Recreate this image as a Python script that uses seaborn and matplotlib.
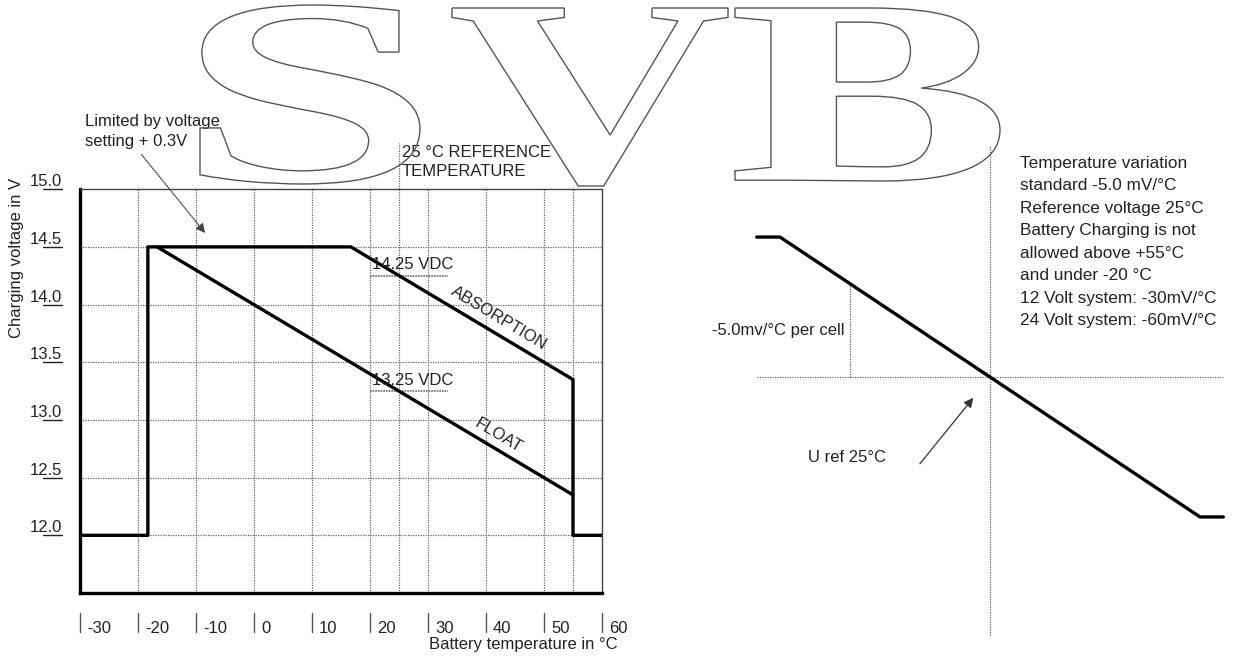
import numpy as np
import pandas as pd
import matplotlib
matplotlib.use("Agg")
import matplotlib.pyplot as plt
import seaborn as sns
from matplotlib.textpath import TextPath
from matplotlib.patches import PathPatch
from matplotlib.font_manager import FontProperties
from matplotlib.transforms import Affine2D

# ------------------ DATA ------------------
# left chart: charging voltage vs battery temperature
ABS_T = [-30, -18.3, -18.3, 16.7, 55, 55, 60]
ABS_V = [12.0, 12.0, 14.5, 14.5, 13.35, 12.0, 12.0]
FLOAT_T = [-16.7, 55]
FLOAT_V = [14.5, 12.35]
TEMP_TICKS = [-30, -20, -10, 0, 10, 20, 30, 40, 50, 60]
V_TICKS = [12.0, 12.5, 13.0, 13.5, 14.0, 14.5, 15.0]
V_GRID = [12.0, 12.5, 13.0, 13.5, 14.0, 14.5]
T_GRID = [-20, -10, 0, 10, 20, 25, 30, 40, 50, 55]
REF_TEMP = 25
ABS_REF = 14.25
FLOAT_REF = 13.25

# right sketch: deviation from U ref (mV per cell) vs temperature offset
COMP_DT = [-50, -45, 45, 50]
COMP_DU = [225, 225, -225, -225]
STEP_DT = -30

NOTES = ("Temperature variation\n"
         "standard -5.0 mV/°C\n"
         "Reference voltage 25°C\n"
         "Battery Charging is not\n"
         "allowed above +55°C\n"
         "and under -20 °C\n"
         "12 Volt system: -30mV/°C\n"
         "24 Volt system: -60mV/°C")

W, H = 1257, 662
INK = "#222222"
GRID = "#666666"

# ------------------ STYLE ------------------
sns.set_style("white")
plt.rcParams["font.family"] = ["Liberation Sans", "DejaVu Sans"]
plt.rcParams["font.size"] = 12

fig = plt.figure(figsize=(W / 100, H / 100), dpi=100)

# ------------------ LEFT CHART ------------------
ax = fig.add_axes([80 / W, (H - 593) / H, 522 / W, 403.8 / H])
ax.set_xlim(-30, 60)
ax.set_ylim(11.5, 15.0)

for v in V_GRID:
    ax.axhline(v, color=GRID, lw=0.9, ls=(0, (1, 1)), zorder=1)
for t in T_GRID:
    ax.axvline(t, color=GRID, lw=0.9, ls=(0, (1, 1)), zorder=1)
# reference line reaches above the box
ax.plot([REF_TEMP, REF_TEMP], [15.0, 15.40], color=GRID, lw=0.9,
        ls=(0, (1, 1)), clip_on=False)

sns.lineplot(x=ABS_T, y=ABS_V, sort=False, estimator=None, color="black",
             lw=2.4, ax=ax, zorder=3)
sns.lineplot(x=FLOAT_T, y=FLOAT_V, sort=False, estimator=None, color="black",
             lw=2.4, ax=ax, zorder=3)

for sp in ["left", "bottom"]:
    ax.spines[sp].set_color("black")
    ax.spines[sp].set_linewidth(2.4)
for sp in ["top", "right"]:
    ax.spines[sp].set_color("#444444")
    ax.spines[sp].set_linewidth(1.0)

# y ticks: labels sitting on a short underline
ax.set_yticks(V_TICKS)
ax.set_yticklabels([f"{v:.1f}" for v in V_TICKS], color=INK)
ax.tick_params(axis="y", length=0, pad=13)
plt.setp(ax.get_yticklabels(), va="bottom")
ytr = ax.get_yaxis_transform()
for v in V_TICKS:
    ax.plot([-0.071, -0.0345], [v, v], color=INK, lw=1, transform=ytr, clip_on=False)

# x ticks: small bar followed by the label
ax.set_xticks([])
xtr = ax.get_xaxis_transform()
for t in TEMP_TICKS:
    ax.plot([t, t], [-0.0495, -0.0966], color="#555555", lw=1, transform=xtr, clip_on=False)
    ax.annotate(str(t), xy=(t, -0.087), xycoords=xtr, xytext=(5, 0),
                textcoords="offset points", ha="left", va="center", color=INK)

ax.set_ylabel("Charging voltage in V", color=INK)
ax.yaxis.set_label_coords(-0.121, 0.83)
ax.yaxis.label.set_va("center")
ax.set_xlabel("Battery temperature in °C", color=INK)
ax.xaxis.set_label_coords(1.029, -0.128)
ax.xaxis.label.set_ha("right")
ax.xaxis.label.set_va("center")

# annotations
ax.text(25.5, 15.235, "25 °C REFERENCE\nTEMPERATURE", ha="left", va="center",
        color=INK, linespacing=1.35)
ax.text(-29.1, 15.50, "Limited by voltage\nsetting + 0.3V", ha="left", va="center",
        color=INK, linespacing=1.35)
ax.annotate("", xy=(-8.1, 14.60), xytext=(-19.7, 15.32),
            arrowprops=dict(arrowstyle="-|>", color="#444444", lw=0.9,
                            ls=(0, (1, 1)), mutation_scale=14),
            annotation_clip=False)

for ref in [ABS_REF, FLOAT_REF]:
    ax.plot([20, 33.5], [ref, ref], color=GRID, lw=1.2, ls=(0, (1, 0.6)), zorder=2)
    ax.text(20.4, ref + 0.03, f"{ref:.2f} VDC", ha="left", va="bottom", color=INK)

ax.text(41.5, 13.83, "ABSORPTION", rotation=-31, rotation_mode="anchor",
        ha="center", va="bottom", color=INK)
ax.text(41.5, 12.81, "FLOAT", rotation=-31, rotation_mode="anchor",
        ha="center", va="bottom", color=INK)

# ------------------ RIGHT SKETCH ------------------
ax2 = fig.add_axes([740 / W, (H - 640) / H, 500 / W, 500 / H])
ax2.set_xlim(-53.57, 53.57)
ax2.set_ylim(-422.8, 381.0)
ax2.axis("off")

ax2.plot([-50, 50], [0, 0], color=GRID, lw=0.9, ls=(0, (1, 1)))
ax2.plot([0, 0], [-415, 373], color=GRID, lw=0.9, ls=(0, (1, 1)))
ax2.plot([STEP_DT, STEP_DT], [0, -5 * STEP_DT], color=GRID, lw=0.9, ls=(0, (1, 1)))
sns.lineplot(x=COMP_DT, y=COMP_DU, sort=False, estimator=None, color="black",
             lw=2.4, ax=ax2, zorder=3)

ax2.text(-31.1, 75, "-5.0mv/°C per cell", ha="right", va="center", color=INK)
ax2.text(-39, -130, "U ref 25°C", ha="left", va="center", color=INK)
ax2.annotate("", xy=(-3.2, -30), xytext=(-15.4, -143),
             arrowprops=dict(arrowstyle="-|>", color="#333333", lw=0.9,
                             mutation_scale=14),
             annotation_clip=False)
ax2.text(6.4, 217, NOTES, ha="left", va="center", color=INK, fontsize=12.4,
         linespacing=1.62)

# ------------------ WATERMARK ------------------
# each letter fitted to the box it takes in the original
LETTER_BOXES = {"S": (200, 420, 5, 184), "V": (452, 728, 8, 186), "B": (735, 1000, 8, 181)}
font = FontProperties(family="Liberation Serif", weight="bold")
for ch, (x0, x1, y0, y1) in LETTER_BOXES.items():
    tp = TextPath((0, 0), ch, size=100, prop=font)
    ext = tp.get_extents()
    fit = (Affine2D().translate(-ext.x0, -ext.y0)
           .scale((x1 - x0) / ext.width, (y1 - y0) / ext.height)
           .translate(x0, H - y1)
           .scale(1 / W, 1 / H))
    mark = PathPatch(fit.transform_path(tp), transform=fig.transFigure,
                     fc="none", ec="#555555", lw=1.0, zorder=10)
    fig.add_artist(mark)

fig.savefig("out.png", dpi=100)
